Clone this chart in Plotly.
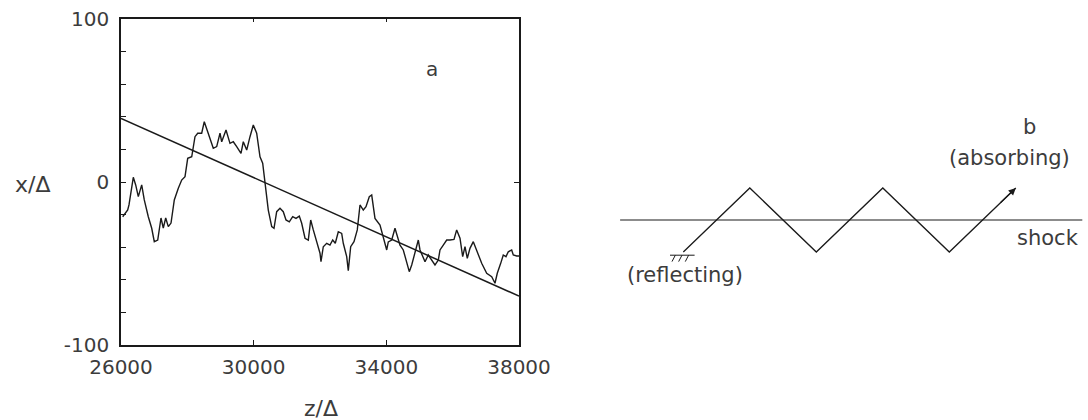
import plotly.graph_objects as go

# ---- panel a data ----
z_vals = [26051, 26202, 26241, 26323, 26371, 26443, 26522, 26624, 26702, 26823,
          26926, 27004, 27107, 27206, 27275, 27348, 27426, 27508, 27607, 27728,
          27830, 27930, 28011, 28132, 28231, 28313, 28433, 28511, 28632, 28783,
          28885, 28985, 29036, 29166, 29286, 29386, 29488, 29618, 29687, 29790,
          29889, 29989, 30091, 30191, 30272, 30342, 30441, 30544, 30613, 30694,
          30794, 30893, 30975, 31074, 31177, 31276, 31376, 31448, 31548, 31647,
          31720, 31798, 31901, 32000, 32030, 32099, 32202, 32301, 32383, 32461,
          32552, 32654, 32702, 32805, 32853, 32925, 33025, 33124, 33206, 33305,
          33387, 33486, 33559, 33658, 33809, 33908, 34011, 34059, 34162, 34261,
          34330, 34412, 34511, 34614, 34692, 34765, 34864, 34964, 35015, 35096,
          35166, 35265, 35368, 35467, 35567, 35618, 35717, 35820, 35919, 36040,
          36121, 36221, 36302, 36372, 36441, 36522, 36622, 36724, 36875, 37026,
          37177, 37276, 37345, 37448, 37526, 37607, 37677, 37779, 37828, 37930,
          38000]
x_vals = [-21.3, -17.2, -14.1, -4.9, 2.9, -1.8, -9.0, -1.8, -11.0, -21.3,
          -28.4, -36.6, -35.6, -22.1, -28.2, -22.1, -27.4, -25.2, -11.0, -3.9,
          1.2, 3.3, 14.5, 15.5, 27.8, 29.9, 29.9, 37.0, 29.9, 20.7,
          21.7, 29.9, 24.7, 31.9, 23.7, 24.7, 21.7, 17.6, 24.7, 19.6,
          27.8, 35.0, 29.9, 15.5, 11.5, -0.8, -17.2, -27.4, -28.4, -18.2,
          -16.1, -18.2, -23.3, -24.4, -21.3, -22.3, -20.9, -25.3, -34.5, -35.6,
          -23.3, -29.4, -37.6, -43.7, -48.9, -39.7, -37.6, -38.7, -35.6, -37.6,
          -30.5, -31.5, -37.6, -45.8, -54.4, -39.7, -36.6, -29.4, -14.1, -17.2,
          -15.2, -9.0, -8.0, -22.3, -26.4, -34.5, -41.7, -36.8, -35.6, -28.4,
          -32.5, -38.7, -41.7, -48.9, -55.0, -50.9, -43.7, -35.6, -41.7, -45.8,
          -48.9, -44.8, -47.9, -50.9, -47.9, -41.7, -38.7, -35.6, -35.6, -35.2,
          -29.4, -34.5, -45.8, -39.7, -46.8, -40.7, -36.6, -41.7, -49.9, -56.0,
          -58.1, -62.1, -56.0, -49.9, -44.8, -45.8, -42.8, -41.7, -44.8, -45.4,
          -45.4]

fit_z = [26000, 38000]
fit_x = [39, -70]

y_tickvals = [-100, -80, -60, -40, -20, 0, 20, 40, 60, 80, 100]
y_ticktext = ["-100", "", "", "", "", "0", "", "", "", "", "100"]
x_tickvals = [26000, 30000, 34000, 38000]
x_ticktext = ["26000", "30000", "34000", "38000"]

# ---- panel b schematic (diagram units) ----
zig_u = [0, 1, 2, 3, 4, 5]
zig_v = [-1, 1, -1, 1, -1, 1]
shock_u = [-0.95, 6.0]
shock_v = [0, 0]

W, H = 1088, 420
INK = "#1a1a1a"
TXT = "#3c3c3c"
FONT = "DejaVu Sans"
TICK_FS = 20
DIAG_FS = 21

fig = go.Figure()
fig.add_trace(go.Scatter(x=z_vals, y=x_vals, mode="lines",
                         line=dict(color=INK, width=1.4), xaxis="x", yaxis="y"))
fig.add_trace(go.Scatter(x=fit_z, y=fit_x, mode="lines",
                         line=dict(color=INK, width=1.5), xaxis="x", yaxis="y"))
fig.add_trace(go.Scatter(x=[], y=[], xaxis="x3", yaxis="y3", showlegend=False))
fig.add_trace(go.Scatter(x=shock_u, y=shock_v, mode="lines",
                         line=dict(color=INK, width=1.2), xaxis="x2", yaxis="y2"))
fig.add_trace(go.Scatter(x=zig_u, y=zig_v, mode="lines",
                         line=dict(color=INK, width=1.3), xaxis="x2", yaxis="y2"))

x0d, x1d = 121 / W, 519 / W
y0d, y1d = 1 - 345 / H, 1 - 19 / H

fig.update_layout(
    width=W, height=H, margin=dict(l=0, r=0, t=0, b=0, autoexpand=False),
    paper_bgcolor="white", plot_bgcolor="white", showlegend=False,
    font=dict(family=FONT, color=TXT, size=18),
    xaxis=dict(domain=[x0d, x1d], range=[26000, 38000], anchor="y", automargin=False,
               tickvals=x_tickvals, ticktext=x_ticktext, ticks="inside", ticklen=5,
               tickcolor=INK, showline=True, linecolor=INK, linewidth=1.5, mirror=True,
               showgrid=False, zeroline=False, ticklabelstandoff=3,
               tickfont=dict(size=TICK_FS, color=TXT)),
    yaxis=dict(domain=[y0d, y1d], range=[-100, 100], anchor="x", automargin=False,
               tickvals=y_tickvals, ticktext=y_ticktext, ticks="inside", ticklen=5,
               tickcolor=INK, showline=True, linecolor=INK, linewidth=1.5, mirror=True,
               showgrid=False, zeroline=False, ticklabelstandoff=6,
               tickfont=dict(size=TICK_FS, color=TXT)),
    xaxis3=dict(overlaying="x", side="top", anchor="y3", range=[26000, 38000],
                automargin=False,
                tickvals=[30000, 34000], ticks="inside", ticklen=3, tickcolor=INK,
                showticklabels=False, showgrid=False, zeroline=False, showline=False),
    yaxis3=dict(overlaying="y", side="right", anchor="x3", range=[-100, 100],
                automargin=False,
                tickvals=[0], ticks="inside", ticklen=5, tickcolor=INK,
                showticklabels=False, showgrid=False, zeroline=False, showline=False),
    xaxis2=dict(domain=[600 / W, 1.0], range=[(600 - 683.3) / 66.5, (1088 - 683.3) / 66.5],
                anchor="y2", visible=False, automargin=False),
    yaxis2=dict(domain=[0, 1], range=[-200 / 32, 220 / 32], anchor="x2", visible=False,
                automargin=False),
)


def label(text, x, y, xref, yref, size):
    return dict(text=text, x=x, y=y, xref=xref, yref=yref, xanchor="center",
                yanchor="middle", showarrow=False, font=dict(size=size, color=TXT))


ann = [
    label("x/Δ", 32 / W, 1 - 184 / H, "paper", "paper", 22),
    label("z/Δ", 321 / W, 1 - 408 / H, "paper", "paper", 22),
    label("a", 432 / W, 1 - 69 / H, "paper", "paper", 20),
    label("b", 5.21, 2.9, "x2", "y2", DIAG_FS),
    label("(absorbing)", 4.91, 1.94, "x2", "y2", DIAG_FS),
    label("shock", 5.48, -0.56, "x2", "y2", DIAG_FS),
    label("(reflecting)", 0.02, -1.72, "x2", "y2", DIAG_FS),
    dict(text="", x=5, y=1, xref="x2", yref="y2", ax=4.75, ay=0.5,
         axref="x2", ayref="y2", showarrow=True, arrowhead=2, arrowsize=1.2,
         arrowwidth=1.2, arrowcolor=INK),
]
fig.update_layout(annotations=ann)

shapes = [
    dict(type="line", xref="x2", yref="y2", x0=-0.2, x1=0.17, y0=-1.1, y1=-1.1,
         line=dict(color=INK, width=1)),
]
for hu in [-0.12, -0.02, 0.08]:
    shapes.append(dict(type="line", xref="x2", yref="y2", x0=hu, x1=hu - 0.05,
                       y0=-1.1, y1=-1.3, line=dict(color=INK, width=1)))
fig.update_layout(shapes=shapes)

fig.write_html("out.html")
